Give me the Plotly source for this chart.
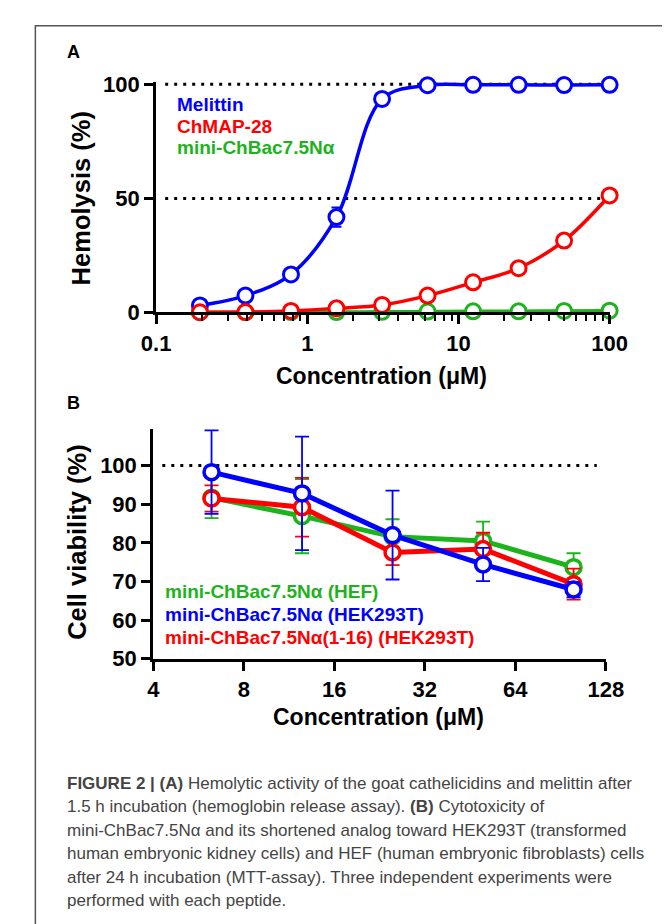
import plotly.graph_objects as go

W, H = 670, 924

BLUE = "#0000FF"
RED = "#FF0000"
GREEN = "#1DB31D"
BOLD_FONT = "Liberation Sans, Arial, sans-serif"
CAPTION_FONT = "Liberation Sans, Arial, sans-serif"

# ── Panel A: hemolysis ──
conc_a = [0.195, 0.39, 0.78, 1.56, 3.125, 6.25, 12.5, 25, 50, 100]
melittin = [3.1, 7.4, 16.7, 41.8, 93.6, 99.6, 99.8, 99.8, 99.7, 99.8]
melittin_err = [0.5, 0.8, 1.0, 4.2, 1.2, 0.3, 0.2, 0.2, 0.2, 0.2]
chmap28 = [0.1, 0.2, 0.7, 1.8, 3.3, 7.4, 13.2, 19.4, 31.5, 51.3]
chmap28_err = [0.2, 0.2, 0.3, 0.4, 0.5, 0.8, 1.0, 1.0, 1.5, 1.5]
mini_a = [0.1, 0.1, 0.2, 0.2, 0.3, 0.4, 0.5, 0.5, 0.7, 0.8]
ref_a = [50, 100]
ytick_a = [0, 50, 100]
xtick_a = [0.1, 1, 10, 100]
xtick_a_text = ["0.1", "1", "10", "100"]

# ── Panel B: cell viability ──
conc_b = [6.25, 12.5, 25, 50, 100]
hef = [91.7, 86.9, 81.6, 80.5, 73.7]
hef_err = [5.3, 9.6, 4.5, 5.0, 3.6]
hek = [98.3, 92.8, 82.0, 74.4, 67.9]
hek_err = [10.8, 14.7, 11.5, 4.3, 2.0]
short_hek = [91.5, 89.2, 77.5, 78.4, 69.3]
short_hek_err = [3.4, 7.6, 3.3, 4.2, 4.0]
ref_b = [100]
ytick_b = [50, 60, 70, 80, 90, 100]
xtick_b = [4, 8, 16, 32, 64, 128]

caption_lines = [
    "<b>FIGURE 2 | (A)</b> Hemolytic activity of the goat cathelicidins and melittin after",
    "1.5 h incubation (hemoglobin release assay). <b>(B)</b> Cytotoxicity of",
    "mini-ChBac7.5Nα and its shortened analog toward HEK293T (transformed",
    "human embryonic kidney cells) and HEF (human embryonic fibroblasts) cells",
    "after 24 h incubation (MTT-assay). Three independent experiments were",
    "performed with each peptide.",
]


def px_x(p):
    return p / W


def px_y(p):
    return 1 - p / H


fig = go.Figure()

# panel A traces
for name, ys, err, color in [
    ("mini-ChBac7.5Nα", mini_a, None, GREEN),
    ("Melittin", melittin, melittin_err, BLUE),
    ("ChMAP-28", chmap28, chmap28_err, RED),
]:
    fig.add_trace(go.Scatter(
        x=conc_a, y=ys, name=name, xaxis="x", yaxis="y",
        mode="lines+markers", line=dict(color=color, width=3.5, shape="spline", smoothing=1.0),
        marker=dict(size=15, color="white", line=dict(color=color, width=3)),
        error_y=dict(type="data", array=err, color=color, thickness=2, width=5, visible=err is not None),
        cliponaxis=False, showlegend=False,
    ))

# panel B traces
for name, ys, err, color in [
    ("mini-ChBac7.5Nα (HEF)", hef, hef_err, GREEN),
    ("mini-ChBac7.5Nα(1-16) (HEK293T)", short_hek, short_hek_err, RED),
    ("mini-ChBac7.5Nα (HEK293T)", hek, hek_err, BLUE),
]:
    fig.add_trace(go.Scatter(
        x=conc_b, y=ys, name=name, xaxis="x2", yaxis="y2",
        mode="lines+markers", line=dict(color=color, width=5),
        marker=dict(size=15, color="white", line=dict(color=color, width=3.5)),
        error_y=dict(type="data", array=err, color=color, thickness=1.8, width=7),
        cliponaxis=False, showlegend=False,
    ))

axis_common = dict(
    showline=True, linecolor="black", linewidth=3, showgrid=False, zeroline=False,
    ticks="outside", tickcolor="black", tickwidth=3, ticklen=9,
    tickfont=dict(family=BOLD_FONT, size=22, color="black", weight="bold"),
)

fig.update_layout(
    width=W, height=H,
    margin=dict(l=0, r=0, t=0, b=0),
    paper_bgcolor="white", plot_bgcolor="white",
    xaxis=dict(
        **axis_common, type="log", range=[-1, 2], domain=[px_x(140), px_x(617)], anchor="y",
        tickvals=xtick_a, ticktext=xtick_a_text,
        minor=dict(ticks="outside", ticklen=6, tickwidth=2, tickcolor="black", dtick="D1", showgrid=False),
    ),
    yaxis=dict(
        **axis_common, range=[0, 101], domain=[px_y(302), px_y(65.7)], anchor="x",
        tickvals=ytick_a,
    ),
    xaxis2=dict(
        **axis_common, type="log", range=[0.60206, 2.10721], domain=[px_x(137), px_x(613)], anchor="y2",
        tickvals=xtick_b,
    ),
    yaxis2=dict(
        **axis_common, range=[50, 109.5], domain=[px_y(657), px_y(421.4)], anchor="x2",
        tickvals=ytick_b,
    ),
)

# dotted reference lines
for v in ref_a:
    fig.add_shape(type="line", xref="x domain", yref="y", x0=0.02, x1=1, y0=v, y1=v,
                  line=dict(color="black", width=3, dash="3px,6px"), layer="below")
for v in ref_b:
    fig.add_shape(type="line", xref="x2 domain", yref="y2", x0=0.02, x1=0.98, y0=v, y1=v,
                  line=dict(color="black", width=3, dash="3px,6px"), layer="below")

# outer frame
fig.add_shape(type="rect", xref="paper", yref="paper", x0=px_x(13), x1=1.05, y0=-0.05, y1=px_y(8),
              line=dict(color="#555555", width=1.5))

annotations = []


def text(x, y, s, size, color="black", xanchor="left", angle=0, weight="bold", family=BOLD_FONT):
    annotations.append(dict(
        x=px_x(x), y=px_y(y), xref="paper", yref="paper", text=s, showarrow=False,
        xanchor=xanchor, yanchor="middle", textangle=angle,
        font=dict(family=family, size=size, color=color, weight=weight),
    ))


# panel letters
text(44, 35, "A", 18)
text(44, 395, "B", 18)

# axis titles
text(61, 185, "Hemolysis (%)", 25.5, xanchor="center", angle=-90)
text(377, 367, "Concentration (μM)", 23, xanchor="center")
text(56, 537, "Cell viability (%)", 25.5, xanchor="center", angle=-90)
text(374, 717, "Concentration (μM)", 23, xanchor="center")

# panel A labels
for i, (s, c) in enumerate([("Melittin", BLUE), ("ChMAP-28", RED), ("mini-ChBac7.5Nα", GREEN)]):
    text(160, 89 + 22 * i, s, 19, color=c)

# panel B labels
for i, (s, c) in enumerate([("mini-ChBac7.5Nα (HEF)", GREEN), ("mini-ChBac7.5Nα (HEK293T)", BLUE),
                            ("mini-ChBac7.5Nα(1-16) (HEK293T)", RED)]):
    text(147, 588 + 23.5 * i, s, 19, color=c)

# caption
for i, line in enumerate(caption_lines):
    text(44, 785 + 24 * i, line, 17, color="#444444", weight="normal", family=CAPTION_FONT)

fig.update_layout(annotations=annotations)

fig.write_html("out.html")
